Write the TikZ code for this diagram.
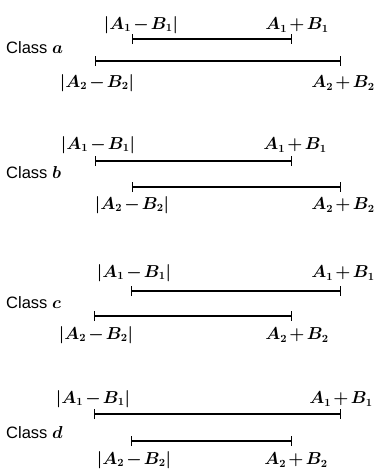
\documentclass[tikz,border=0pt]{standalone}
\usepackage{fontspec}
\setsansfont{Liberation Sans}
\usetikzlibrary{arrows.meta}
\newcommand{\tightmath}{\medmuskip=2mu\relax}
\tikzset{
  seg/.style={line width=1.1pt, {Bar[width=10pt,line width=0.9pt]}-{Bar[width=10pt,line width=0.9pt]}},
  lbl/.style={inner sep=0pt, font=\fontsize{16}{18}\selectfont\boldmath\tightmath},
  cls/.style={inner sep=0pt, anchor=west, font=\sffamily\fontsize{16.5}{18}\selectfont\boldmath}
}
\begin{document}
\begin{tikzpicture}[x=1pt,y=-1pt]
\useasboundingbox (0,0) rectangle (374,469);
% Class a
\node[cls] (ca) at (6,48) {Class $a$};
\coordinate (a1l) at (132,39); \coordinate (a1r) at (292,39);
\coordinate (a2l) at (95,61);  \coordinate (a2r) at (341,61);
\draw[seg] (a1l) -- (a1r);
\draw[seg] (a2l) -- (a2r);
\node[lbl] (a1m) at (141,25) {$|A_1-B_1|$};
\node[lbl] (a1p) at (297,25) {$A_1+B_1$};
\node[lbl] (a2m) at (97,83) {$|A_2-B_2|$};
\node[lbl] (a2p) at (343,83) {$A_2+B_2$};
% Class b
\node[cls] (cb) at (6,173) {Class $b$};
\coordinate (b1l) at (95,161); \coordinate (b1r) at (292,161);
\coordinate (b2l) at (132,187); \coordinate (b2r) at (341,187);
\draw[seg] (b1l) -- (b1r);
\draw[seg] (b2l) -- (b2r);
\node[lbl] (b1m) at (98,145) {$|A_1-B_1|$};
\node[lbl] (b1p) at (295,145) {$A_1+B_1$};
\node[lbl] (b2m) at (132,205) {$|A_2-B_2|$};
\node[lbl] (b2p) at (343,205) {$A_2+B_2$};
% Class c
\node[cls] (cc) at (6,303) {Class $c$};
\coordinate (c1l) at (131,291); \coordinate (c1r) at (341,291);
\coordinate (c2l) at (94,316);  \coordinate (c2r) at (292,316);
\draw[seg] (c1l) -- (c1r);
\draw[seg] (c2l) -- (c2r);
\node[lbl] (c1m) at (134,273) {$|A_1-B_1|$};
\node[lbl] (c1p) at (343,273) {$A_1+B_1$};
\node[lbl] (c2m) at (96,335) {$|A_2-B_2|$};
\node[lbl] (c2p) at (297,335) {$A_2+B_2$};
% Class d
\node[cls] (cd) at (6,433) {Class $d$};
\coordinate (d1l) at (94,414); \coordinate (d1r) at (341,414);
\coordinate (d2l) at (131,441); \coordinate (d2r) at (292,441);
\draw[seg] (d1l) -- (d1r);
\draw[seg] (d2l) -- (d2r);
\node[lbl] (d1m) at (93,399) {$|A_1-B_1|$};
\node[lbl] (d1p) at (341,399) {$A_1+B_1$};
\node[lbl] (d2m) at (134,460) {$|A_2-B_2|$};
\node[lbl] (d2p) at (296,460) {$A_2+B_2$};
\end{tikzpicture}
\end{document}
